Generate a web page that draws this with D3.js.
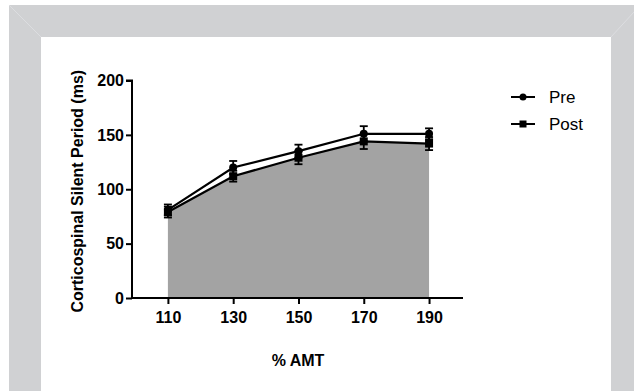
<!DOCTYPE html>
<html><head><meta charset="utf-8">
<script src="https://cdn.jsdelivr.net/npm/d3@7"></script>
<style>body{margin:0;background:#fff}svg{display:block}</style>
</head><body>
<svg id="c" width="634" height="391"></svg>
<script>
const categories = [110, 130, 150, 170, 190];
const preValues = [81, 120, 135, 151, 151];
const preErrors = [5, 6, 6, 7, 5];
const postValues = [79, 112, 129, 144, 142];
const postErrors = [5, 5, 6, 7, 6];
const yTicks = [0, 50, 100, 150, 200];
const seriesNames = ["Pre", "Post"];

const svg = d3.select("#c");
const font = "'Liberation Sans', Arial, sans-serif";

// frame
svg.append("rect").attr("x", 9).attr("y", 5).attr("width", 625).attr("height", 386).attr("fill", "#d0d1d3");
svg.append("rect").attr("x", 41).attr("y", 37).attr("width", 570).attr("height", 354).attr("fill", "#fff");
svg.append("line").attr("x1", 9).attr("y1", 5).attr("x2", 41).attr("y2", 37).attr("stroke", "#dcdde0").attr("stroke-width", 1);
svg.append("line").attr("x1", 634).attr("y1", 12).attr("x2", 611).attr("y2", 37).attr("stroke", "#dcdde0").attr("stroke-width", 1);

const x = d3.scaleLinear().domain([99, 200.4]).range([132, 463]);
const y = d3.scaleLinear().domain([0, 200]).range([298, 80.5]);

const pre = categories.map((c, i) => ({x: c, v: preValues[i], e: preErrors[i]}));
const post = categories.map((c, i) => ({x: c, v: postValues[i], e: postErrors[i]}));

// area under post
svg.append("path").datum(post)
  .attr("d", d3.area().x(d => x(d.x)).y0(y(0)).y1(d => y(d.v)))
  .attr("fill", "#a3a3a3");

// axes
const yAxis = svg.append("g").attr("transform", `translate(${x(99)},0)`)
  .call(d3.axisLeft(y).tickValues(yTicks).tickSize(6).tickSizeOuter(0).tickPadding(2));
const xAxis = svg.append("g").attr("transform", `translate(0,${y(0)})`)
  .call(d3.axisBottom(x).tickValues(categories).tickSize(6).tickSizeOuter(0).tickPadding(8));
[yAxis, xAxis].forEach(g => {
  g.selectAll("path,line").attr("stroke", "#000").attr("stroke-width", 2);
  g.selectAll("text").attr("font-family", font).attr("font-weight", "bold").attr("font-size", 16).attr("fill", "#000");
});
yAxis.select(".domain").attr("d", `M-6,${y(200)}H0V${y(0)+1}`);
xAxis.select(".domain").attr("d", `M${x(99)-1},0H${x(200.4)}`);

// lines, error bars, markers
function drawSeries(data, shape) {
  const g = svg.append("g");
  g.append("path").datum(data)
    .attr("d", d3.line().x(d => x(d.x)).y(d => y(d.v)))
    .attr("fill", "none").attr("stroke", "#000").attr("stroke-width", 2.2);
  const eb = g.selectAll(".eb").data(data).enter().append("g");
  eb.append("line").attr("x1", d => x(d.x)).attr("x2", d => x(d.x))
    .attr("y1", d => y(d.v - d.e)).attr("y2", d => y(d.v + d.e))
    .attr("stroke", "#000").attr("stroke-width", 1.8);
  [-1, 1].forEach(s => {
    eb.append("line").attr("x1", d => x(d.x) - 4).attr("x2", d => x(d.x) + 4)
      .attr("y1", d => y(d.v + s * d.e)).attr("y2", d => y(d.v + s * d.e))
      .attr("stroke", "#000").attr("stroke-width", 1.8);
  });
  if (shape === "circle") {
    g.selectAll(".m").data(data).enter().append("circle")
      .attr("cx", d => x(d.x)).attr("cy", d => y(d.v)).attr("r", 4).attr("fill", "#000");
  } else {
    g.selectAll(".m").data(data).enter().append("rect")
      .attr("x", d => x(d.x) - 4).attr("y", d => y(d.v) - 4).attr("width", 8).attr("height", 8).attr("fill", "#000");
  }
}
drawSeries(post, "square");
drawSeries(pre, "circle");

// axis titles
svg.append("text").attr("transform", `translate(83,${(y(0)+y(200))/2 + 2}) rotate(-90)`)
  .attr("text-anchor", "middle").attr("font-family", font).attr("font-weight", "bold").attr("font-size", 16)
  .text("Corticospinal Silent Period (ms)");
svg.append("text").attr("x", 298).attr("y", 366)
  .attr("text-anchor", "middle").attr("font-family", font).attr("font-weight", "bold").attr("font-size", 16)
  .text("% AMT");

// legend
const lg = svg.append("g");
seriesNames.forEach((name, i) => {
  const ly = 97 + i * 27;
  lg.append("line").attr("x1", 511).attr("x2", 535).attr("y1", ly).attr("y2", ly).attr("stroke", "#000").attr("stroke-width", 2);
  if (i === 0) lg.append("circle").attr("cx", 523).attr("cy", ly).attr("r", 3.5).attr("fill", "#000");
  else lg.append("rect").attr("x", 519.5).attr("y", ly - 3.5).attr("width", 7).attr("height", 7).attr("fill", "#000");
  lg.append("text").attr("x", 549).attr("y", ly + 6).attr("font-family", font).attr("font-size", 17).text(name);
});
</script>
</body></html>
